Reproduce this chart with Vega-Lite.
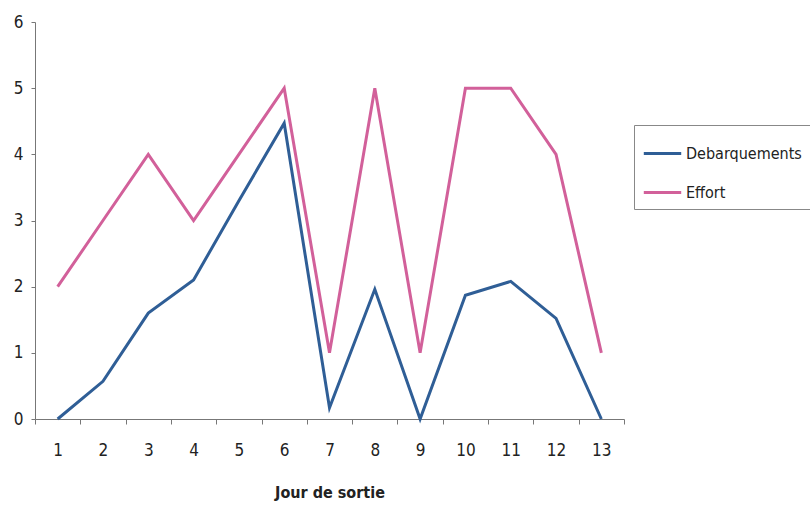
{
  "$schema": "https://vega.github.io/schema/vega-lite/v6.json",
  "width": 589,
  "height": 397,
  "autosize": "none",
  "padding": {"left": 35, "top": 22, "right": 186, "bottom": 86},
  "background": "white",
  "config": {"view": {"stroke": null}, "font": "DejaVu Sans Condensed, Liberation Sans, sans-serif"},
  "data": {"values": [
    {"jour": 1, "serie": "Debarquements", "v": 0},
    {"jour": 2, "serie": "Debarquements", "v": 0.57},
    {"jour": 3, "serie": "Debarquements", "v": 1.6},
    {"jour": 4, "serie": "Debarquements", "v": 2.1},
    {"jour": 5, "serie": "Debarquements", "v": 3.3},
    {"jour": 6, "serie": "Debarquements", "v": 4.47},
    {"jour": 7, "serie": "Debarquements", "v": 0.17},
    {"jour": 8, "serie": "Debarquements", "v": 1.96},
    {"jour": 9, "serie": "Debarquements", "v": 0},
    {"jour": 10, "serie": "Debarquements", "v": 1.87},
    {"jour": 11, "serie": "Debarquements", "v": 2.08},
    {"jour": 12, "serie": "Debarquements", "v": 1.52},
    {"jour": 13, "serie": "Debarquements", "v": 0},
    {"jour": 1, "serie": "Effort", "v": 2},
    {"jour": 2, "serie": "Effort", "v": 3},
    {"jour": 3, "serie": "Effort", "v": 4},
    {"jour": 4, "serie": "Effort", "v": 3},
    {"jour": 5, "serie": "Effort", "v": 4},
    {"jour": 6, "serie": "Effort", "v": 5},
    {"jour": 7, "serie": "Effort", "v": 1},
    {"jour": 8, "serie": "Effort", "v": 5},
    {"jour": 9, "serie": "Effort", "v": 1},
    {"jour": 10, "serie": "Effort", "v": 5},
    {"jour": 11, "serie": "Effort", "v": 5},
    {"jour": 12, "serie": "Effort", "v": 4},
    {"jour": 13, "serie": "Effort", "v": 1}
  ]},
  "mark": {"type": "line", "strokeWidth": 3, "strokeJoin": "miter"},
  "encoding": {
    "x": {
      "field": "jour", "type": "ordinal",
      "scale": {"paddingInner": 0, "paddingOuter": 0},
      "axis": {
        "title": "Jour de sortie", "titleFontSize": 16,
        "titleFontWeight": "bold", "titleColor": "#222", "titlePadding": 26,
        "labelAngle": 0, "labelFontSize": 17, "labelColor": "#222", "labelPadding": 18,
        "tickBand": "extent", "tickSize": 5, "tickColor": "#777", "domainColor": "#777",
        "grid": false
      }
    },
    "y": {
      "field": "v", "type": "quantitative",
      "scale": {"domain": [0, 6], "nice": false},
      "axis": {
        "title": null, "values": [0, 1, 2, 3, 4, 5, 6], "labelFontSize": 17,
        "labelColor": "#222", "labelPadding": 8, "tickSize": 4, "tickColor": "#777",
        "domainColor": "#777", "grid": false
      }
    },
    "color": {
      "field": "serie", "type": "nominal",
      "scale": {"domain": ["Debarquements", "Effort"], "range": ["#2F5E96", "#D2609A"]},
      "legend": {
        "title": null, "orient": "none", "legendX": 599, "legendY": 103,
        "strokeColor": "#888", "padding": 8, "symbolType": "stroke",
        "symbolSize": 1400, "symbolStrokeWidth": 3, "labelFontSize": 16,
        "labelColor": "#222", "labelOffset": 3, "rowPadding": 10, "labelLimit": 300
      }
    }
  }
}
